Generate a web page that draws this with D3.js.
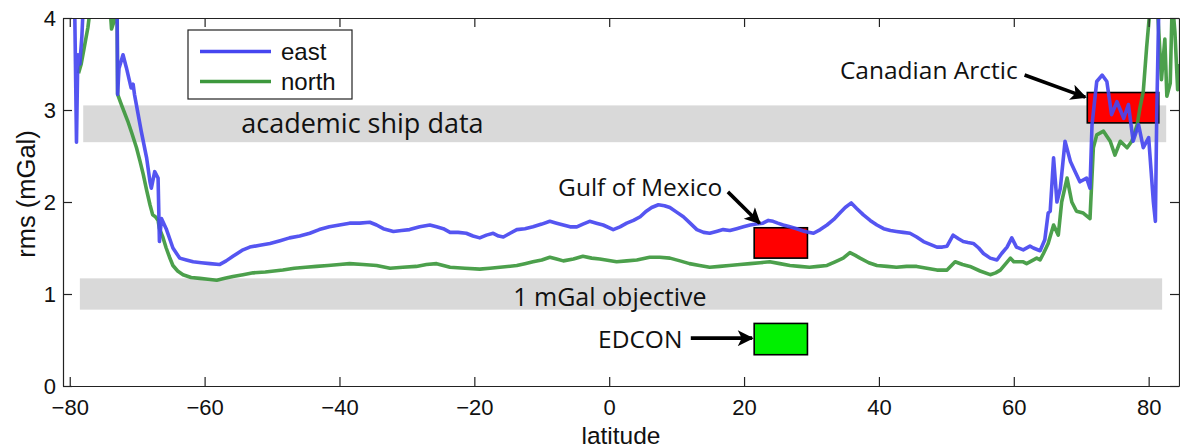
<!DOCTYPE html>
<html><head><meta charset="utf-8">
<script src="https://cdn.jsdelivr.net/npm/d3@7"></script>
<style>
html,body{margin:0;padding:0;background:#fff;}
svg{display:block;}
</style></head>
<body>
<svg id="chart" width="1180" height="448"></svg>
<script>
// ---------------- DATA ----------------
const xTicks = [-80, -60, -40, -20, 0, 20, 40, 60, 80];
const yTicks = [0, 1, 2, 3, 4];
const seriesNames = ["east", "north"];

const eastLat = [-79.3,-79.0,-78.8,-78.5,-78.2,-77.9,-76,-74,-73.0,-72.9,-72.7,-72.1,-71.6,-70.9,-70.6,-70.4,-69.4,-68.6,-68.1,-67.9,-67.4,-66.9,-66.7,-66.4,-65.7,-64.7,-63.7,-62.7,-61.7,-60.5,-59.2,-57.8,-56.8,-55.8,-54.3,-53.3,-51.8,-50.3,-48.8,-47.4,-45.9,-44.4,-43.0,-41.5,-40.0,-38.5,-37.0,-35.5,-34.5,-33.5,-32.0,-30.8,-29.6,-28.1,-26.6,-25.6,-24.6,-23.6,-22.4,-21.2,-20.2,-19.2,-18.2,-17.2,-16.4,-15.7,-14.7,-13.7,-12.5,-11.3,-10.0,-8.8,-7.8,-6.8,-5.8,-4.8,-3.9,-2.9,-1.9,-0.9,0.6,1.6,2.6,3.6,4.6,5.5,6.3,7.3,8.2,9.0,10.0,11.0,12.0,13.0,14.0,14.9,15.9,16.9,17.9,18.9,19.9,20.9,21.8,22.8,23.6,24.3,25.0,25.8,26.8,27.8,29.0,30.3,31.3,32.3,33.3,34.2,35.0,35.9,36.7,37.7,38.7,39.7,40.7,41.7,42.6,43.6,44.6,45.6,46.6,47.6,48.6,49.4,50.1,51.0,51.8,52.5,53.2,54.0,54.8,55.5,56.5,57.5,58.2,59.0,59.7,60.4,61.4,62.4,62.9,63.9,64.6,65.1,65.4,65.9,66.4,66.9,67.6,68.4,69.1,69.8,70.8,71.3,71.6,72.3,73.1,73.8,74.5,75.3,76.3,77.0,77.7,78.5,79.2,80.0,80.7,81.0,81.2,81.5,82.0];
const eastRms = [4.3,2.65,3.6,3.5,3.8,4.3,5,5,4.5,3.17,3.45,3.60,3.46,3.24,3.28,3.17,2.77,2.48,2.22,2.15,2.33,2.26,1.57,1.82,1.71,1.50,1.39,1.37,1.35,1.34,1.33,1.32,1.36,1.41,1.48,1.51,1.53,1.55,1.58,1.61,1.63,1.66,1.70,1.73,1.75,1.77,1.77,1.78,1.75,1.71,1.68,1.69,1.70,1.73,1.75,1.73,1.71,1.67,1.67,1.66,1.63,1.61,1.64,1.66,1.63,1.62,1.66,1.70,1.71,1.73,1.76,1.79,1.77,1.75,1.73,1.73,1.76,1.79,1.77,1.75,1.70,1.73,1.77,1.80,1.84,1.90,1.94,1.97,1.96,1.94,1.89,1.84,1.77,1.70,1.67,1.66,1.68,1.70,1.69,1.71,1.73,1.75,1.76,1.77,1.80,1.79,1.77,1.75,1.73,1.71,1.68,1.66,1.70,1.75,1.81,1.88,1.94,1.99,1.93,1.86,1.80,1.75,1.71,1.69,1.68,1.67,1.66,1.62,1.57,1.54,1.51,1.51,1.52,1.64,1.60,1.57,1.56,1.55,1.50,1.44,1.39,1.37,1.44,1.51,1.61,1.51,1.48,1.52,1.50,1.47,1.59,1.88,1.90,2.48,2.00,2.15,2.66,2.44,2.33,2.22,2.26,2.15,2.84,3.31,3.38,3.31,2.95,3.09,2.91,3.06,2.66,2.84,2.59,2.70,2.00,1.79,2.95,4.1,4.5];

const northLat = [-78.7,-78.3,-77.8,-77.3,-76.8,-75,-74.2,-73.8,-73.5,-73.2,-73.0,-72.9,-72.3,-71.4,-70.8,-70.1,-69.6,-69.1,-68.6,-68.1,-67.7,-67.3,-66.9,-66.7,-66.2,-65.7,-65.2,-64.7,-64.0,-63.2,-62.0,-60.7,-59.5,-58.2,-57.0,-55.8,-54.3,-52.8,-51.0,-49.7,-48.4,-46.7,-45.0,-43.4,-41.7,-40.0,-38.5,-36.5,-34.5,-32.5,-30.6,-28.6,-27.1,-25.6,-24.6,-23.6,-21.4,-19.2,-17.7,-16.2,-13.7,-12.5,-11.3,-10.0,-8.8,-7.8,-6.8,-5.3,-3.9,-2.6,-1.4,1.1,2.6,4.1,6.0,7.5,9.0,10.5,11.9,13.4,14.9,16.4,17.8,19.4,20.9,22.4,23.8,25.3,26.8,28.2,29.7,31.0,32.3,33.5,34.7,35.7,36.5,37.2,38.5,39.7,41.2,42.6,44.1,45.6,47.1,48.6,50.1,51.3,52.4,53.5,55.0,56.5,57.3,58.0,59.5,60.0,61.4,61.9,63.4,63.9,64.4,65.1,65.9,66.6,67.1,67.9,68.6,69.3,70.3,71.3,71.8,72.3,73.3,74.3,75.0,75.8,76.8,77.5,78.3,78.7,79.2,79.7,80.2,81.0,81.9,82.4,82.7,83.2,83.5,83.9,84.3,84.6];
const northRms = [3.40,3.50,3.70,3.90,4.2,5,4.3,3.88,3.95,4.3,4.3,3.17,3.05,2.88,2.75,2.59,2.45,2.30,2.13,1.97,1.86,1.84,1.80,1.71,1.62,1.50,1.40,1.31,1.25,1.21,1.18,1.17,1.16,1.15,1.17,1.19,1.21,1.23,1.24,1.25,1.26,1.28,1.29,1.30,1.31,1.32,1.33,1.32,1.31,1.28,1.29,1.30,1.32,1.33,1.31,1.29,1.28,1.27,1.28,1.29,1.31,1.33,1.35,1.37,1.40,1.38,1.36,1.38,1.41,1.39,1.38,1.35,1.36,1.37,1.40,1.40,1.39,1.36,1.33,1.31,1.29,1.30,1.31,1.32,1.33,1.34,1.35,1.33,1.31,1.30,1.29,1.30,1.31,1.35,1.39,1.45,1.42,1.39,1.34,1.31,1.30,1.29,1.30,1.30,1.28,1.26,1.26,1.35,1.32,1.30,1.25,1.21,1.23,1.26,1.39,1.35,1.35,1.33,1.39,1.37,1.44,1.55,1.75,1.64,2.00,2.26,2.00,1.90,1.88,1.82,2.59,2.73,2.77,2.66,2.51,2.66,2.59,2.66,2.84,3.02,3.20,3.68,4.1,4.5,3.33,3.77,3.15,3.29,4.2,3.84,3.22,3.5];

// reference bands
const bandLat = [[-78.0, 82.6], [-78.5, 82.0]];
const bandRms = [[2.65, 3.05], [0.83, 1.17]];
const bandLabels = ["academic ship data", "1 mGal objective"];
const bandLabelPos = [[-36.6, 2.86], [0.1, 0.98]];
const bandLabelSize = [27, 25];

// survey boxes
const boxLat = [[21.5, 29.4], [21.5, 29.4], [70.9, 81.5]];
const boxRms = [[1.39, 1.72], [0.34, 0.68], [2.86, 3.19]];
const boxColors = ["#ff0000", "#00f000", "#ff0000"];

// annotations
const noteLabels = ["Gulf of Mexico", "EDCON", "Canadian Arctic"];
const notePos = [[4.6, 2.17], [4.6, 0.52], [47.4, 3.44]];
const arrowFrom = [[17.6, 2.11], [12.1, 0.52], [61.6, 3.38]];
const arrowTo = [[22.3, 1.77], [21.2, 0.52], [70.6, 3.14]];

// ---------------- CHART ----------------
const m = {l: 63, r: 1179, t: 18, b: 386};
const svg = d3.select("#chart");
const x = d3.scaleLinear().domain([-81, 84.5]).range([m.l, m.r]);
const y = d3.scaleLinear().domain([0, 4]).range([m.b, m.t]);
const colors = {east: "#4646f0", north: "#3d983d"};
const tickFont = "'Liberation Sans', Arial, Helvetica, sans-serif";
const noteFont = "'Open Sans', 'Noto Sans', sans-serif";

svg.append("defs").append("clipPath").attr("id", "plotclip")
  .append("rect").attr("x", m.l).attr("y", m.t).attr("width", m.r - m.l).attr("height", m.b - m.t);

// bands
bandLat.forEach((bl, i) => {
  svg.append("rect")
    .attr("x", x(bl[0])).attr("width", x(bl[1]) - x(bl[0]))
    .attr("y", y(bandRms[i][1])).attr("height", y(bandRms[i][0]) - y(bandRms[i][1]))
    .attr("fill", "#d9d9d9");
  svg.append("text")
    .attr("x", x(bandLabelPos[i][0])).attr("y", y(bandLabelPos[i][1]))
    .attr("text-anchor", "middle").attr("dominant-baseline", "central")
    .attr("font-family", noteFont).attr("font-size", bandLabelSize[i]).attr("fill", "#111")
    .text(bandLabels[i]);
});

// boxes
boxLat.forEach((bl, i) => {
  svg.append("rect")
    .attr("x", x(bl[0])).attr("width", x(bl[1]) - x(bl[0]))
    .attr("y", y(boxRms[i][1])).attr("height", y(boxRms[i][0]) - y(boxRms[i][1]))
    .attr("fill", boxColors[i]).attr("stroke", "#000").attr("stroke-width", 1.6);
});

// lines
const line = d3.line().x(d => x(d[0])).y(d => y(d[1]));
const seriesData = {
  east: eastLat.map((v, i) => [v, eastRms[i]]),
  north: northLat.map((v, i) => [v, northRms[i]])
};
const lg = svg.append("g").attr("clip-path", "url(#plotclip)");
["north", "east"].forEach(k => {
  lg.append("path").datum(seriesData[k]).attr("d", line)
    .attr("fill", "none").attr("stroke", colors[k]).attr("stroke-width", 3.6)
    .attr("stroke-linejoin", "round").attr("stroke-opacity", 0.92);
});

// axes (box with inward ticks)
const axG = svg.append("g").attr("font-family", tickFont);
axG.append("g").attr("transform", `translate(0,${m.b})`)
  .call(d3.axisBottom(x).tickValues(xTicks).tickSize(-9).tickSizeOuter(0).tickPadding(13));
axG.append("g").attr("transform", `translate(0,${m.t})`)
  .call(d3.axisTop(x).tickValues(xTicks).tickSize(-9).tickSizeOuter(0).tickFormat(""));
axG.append("g").attr("transform", `translate(${m.l},0)`)
  .call(d3.axisLeft(y).tickValues(yTicks).tickSize(-9).tickSizeOuter(0).tickPadding(7).tickFormat(d3.format("d")));
axG.append("g").attr("transform", `translate(${m.r},0)`)
  .call(d3.axisRight(y).tickValues(yTicks).tickSize(-9).tickSizeOuter(0).tickFormat(""));
axG.selectAll(".domain, .tick line").attr("stroke", "#222").attr("stroke-width", 1.2);
axG.selectAll(".tick text").attr("font-size", 22).attr("fill", "#111").attr("font-family", tickFont);

// axis titles
svg.append("text").attr("x", (m.l + m.r) / 2).attr("y", 444)
  .attr("text-anchor", "middle").attr("font-family", tickFont).attr("font-size", 24.5).attr("fill", "#111")
  .text("latitude");
svg.append("text").attr("transform", `translate(35,${(m.t + m.b) / 2 - 8}) rotate(-90)`)
  .attr("text-anchor", "middle").attr("font-family", tickFont).attr("font-size", 25.5).attr("fill", "#111")
  .text("rms (mGal)");

// arrows
const defs = svg.select("defs");
defs.append("marker").attr("id", "ah").attr("viewBox", "0 0 10 10")
  .attr("refX", 9).attr("refY", 5).attr("markerUnits", "userSpaceOnUse")
  .attr("markerWidth", 19).attr("markerHeight", 16).attr("orient", "auto")
  .append("path").attr("d", "M0,0 L10,5 L0,10 L2.5,5 Z").attr("fill", "#000");

noteLabels.forEach((t, i) => {
  svg.append("text").attr("x", x(notePos[i][0])).attr("y", y(notePos[i][1]))
    .attr("text-anchor", "middle").attr("dominant-baseline", "central")
    .attr("font-family", noteFont).attr("font-size", 24.5).attr("fill", "#111").text(t);
  svg.append("line")
    .attr("x1", x(arrowFrom[i][0])).attr("y1", y(arrowFrom[i][1]))
    .attr("x2", x(arrowTo[i][0])).attr("y2", y(arrowTo[i][1]))
    .attr("stroke", "#000").attr("stroke-width", 3.6).attr("marker-end", "url(#ah)");
});

// legend
const leg = svg.append("g");
leg.append("rect").attr("x", 188).attr("y", 30).attr("width", 164).attr("height", 69)
  .attr("fill", "#fff").attr("stroke", "#222").attr("stroke-width", 1.2);
seriesNames.forEach((k, i) => {
  const yy = 51.5 + i * 30;
  leg.append("line").attr("x1", 200).attr("x2", 271).attr("y1", yy).attr("y2", yy)
    .attr("stroke", colors[k]).attr("stroke-width", 3.6);
  leg.append("text").attr("x", 281).attr("y", yy).attr("dominant-baseline", "central")
    .attr("font-family", tickFont).attr("font-size", 24).attr("fill", "#111").text(k);
});
</script>
</body></html>
